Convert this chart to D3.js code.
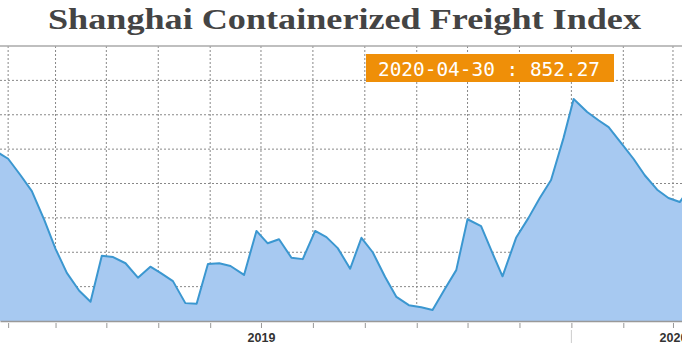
<!DOCTYPE html>
<html>
<head>
<meta charset="utf-8">
<script src="https://cdn.jsdelivr.net/npm/d3@7"></script>
<style>
  body { margin: 0; background: #fff; }
  svg { display: block; }
</style>
</head>
<body>
<div id="chart"></div>
<script>
// weekly-ish index readings
const dates = [
  "2018-05-11","2018-05-22","2018-06-02","2018-06-12","2018-06-23","2018-07-03","2018-07-13","2018-07-24",
  "2018-08-03","2018-08-13","2018-08-23","2018-09-03","2018-09-14","2018-09-25","2018-10-04","2018-10-15",
  "2018-10-26","2018-11-05","2018-11-15","2018-11-25","2018-12-05","2018-12-17","2018-12-28","2019-01-07",
  "2019-01-17","2019-01-28","2019-02-07","2019-02-18","2019-02-28","2019-03-10","2019-03-21","2019-03-31",
  "2019-04-10","2019-04-21","2019-05-01","2019-05-12","2019-05-23","2019-06-02","2019-06-13","2019-06-23",
  "2019-07-03","2019-07-15","2019-07-25","2019-08-03","2019-08-15","2019-08-26","2019-09-05","2019-09-15",
  "2019-09-26","2019-10-05","2019-10-17","2019-10-27","2019-11-05","2019-11-16","2019-11-27","2019-12-07",
  "2019-12-18","2019-12-28","2020-01-07","2020-01-18"
];
const values = [
  847, 836, 812, 789, 747, 705, 670, 644,
  628, 695, 693, 684, 663, 679, 670, 658,
  626, 625, 683, 684, 680, 667, 731, 713,
  719, 692, 690, 731, 722, 706, 676, 721,
  700, 664, 635, 623, 620, 616, 647, 674,
  748, 738, 699, 665, 721, 750, 779, 805,
  866, 923, 904, 892, 882, 859, 836, 812,
  791, 779, 773, 798
];
const tickDates = [
  "2018-05-22","2018-07-03","2018-08-17","2018-10-02","2018-11-17","2019-01-01","2019-02-16",
  "2019-04-03","2019-05-19","2019-07-03","2019-08-18","2019-10-03","2019-11-18","2020-01-01"
];
const yTicks = [650, 700, 750, 800, 850, 900, 950];
const yMin = 600, yMax = 1000;
const viewStart = "2018-05-14T19:00", viewEnd = "2020-01-09T00:00";
const title = "Shanghai Containerized Freight Index";
const tipDate = "2020-04-30", tipValue = 852.27;

const width = 682, height = 351;
const margin = { top: 46, right: 0, bottom: 30, left: 0 };
const innerWidth = width - margin.left - margin.right;
const innerHeight = height - margin.top - margin.bottom;

const parse = d3.timeParse("%Y-%m-%d");
const parseT = d3.timeParse("%Y-%m-%dT%H:%M");
const data = dates.map((d, i) => ({ date: parse(d), value: values[i] }));
const ticks = tickDates.map(parse);

// scales
const x = d3.scaleTime()
  .domain([parseT(viewStart), parseT(viewEnd)])
  .range([0, innerWidth]);

const y = d3.scaleLinear()
  .domain([yMin, yMax])
  .range([innerHeight, 0]);

const svg = d3.select("#chart").append("svg")
  .attr("width", width)
  .attr("height", height);

svg.append("defs").append("clipPath")
  .attr("id", "plot-clip")
  .append("rect")
    .attr("width", innerWidth)
    .attr("height", innerHeight);

// title
svg.append("text")
  .attr("x", 48)
  .attr("y", 29)
  .attr("textLength", 593)
  .attr("lengthAdjust", "spacingAndGlyphs")
  .style("font-family", "'Liberation Serif', serif")
  .style("font-weight", "bold")
  .style("font-size", "29px")
  .style("fill", "#444")
  .text(title);

const g = svg.append("g")
  .attr("transform", `translate(${margin.left},${margin.top})`);

// dashed grid
g.selectAll(".vgrid")
  .data(ticks)
  .join("line")
    .attr("class", "vgrid")
    .attr("x1", d => x(d)).attr("x2", d => x(d))
    .attr("y1", 0).attr("y2", innerHeight)
    .attr("stroke", "#888")
    .attr("stroke-width", 1)
    .attr("stroke-dasharray", "2,2");

g.selectAll(".hgrid")
  .data(yTicks)
  .join("line")
    .attr("class", "hgrid")
    .attr("x1", 0).attr("x2", innerWidth)
    .attr("y1", d => y(d)).attr("y2", d => y(d))
    .attr("stroke", "#888")
    .attr("stroke-width", 1)
    .attr("stroke-dasharray", "2,2");

// top border
g.append("line")
  .attr("x1", 0).attr("x2", innerWidth)
  .attr("y1", y(yMax)).attr("y2", y(yMax))
  .attr("stroke", "#aaa")
  .attr("stroke-width", 1.5);

// area + line
const area = d3.area()
  .x(d => x(d.date))
  .y0(y(yMin))
  .y1(d => y(d.value));

const line = d3.line()
  .x(d => x(d.date))
  .y(d => y(d.value));

const plot = g.append("g").attr("clip-path", "url(#plot-clip)");

plot.append("path")
  .datum(data)
  .attr("d", area)
  .attr("fill", "#a7c9f1");

plot.append("path")
  .datum(data)
  .attr("d", line)
  .attr("fill", "none")
  .attr("stroke", "#3b97d0")
  .attr("stroke-width", 2)
  .attr("stroke-linejoin", "round");

// x axis
const xAxis = d3.axisBottom(x)
  .tickValues(ticks)
  .tickSizeOuter(0)
  .tickFormat(d => (d.getMonth() === 0 && d.getDate() === 1) ? d.getFullYear() : "");

const ax = g.append("g")
  .attr("transform", `translate(0,${innerHeight})`)
  .call(xAxis);

ax.select(".domain")
  .attr("stroke", "#999")
  .attr("stroke-width", 1.5);

ax.selectAll(".tick line")
  .attr("y1", 2)
  .attr("y2", 7)
  .attr("stroke", "#999");

ax.selectAll(".tick text")
  .attr("y", 12)
  .style("font-family", "'Liberation Sans', sans-serif")
  .style("font-weight", "bold")
  .style("font-size", "12.5px")
  .style("fill", "#333");

// small separator under the axis
g.append("line")
  .attr("x1", x(ticks[11])).attr("x2", x(ticks[11]))
  .attr("y1", innerHeight + 9).attr("y2", innerHeight + 22)
  .attr("stroke", "#ccc")
  .attr("stroke-width", 1);

// value label
const tip = svg.append("g");
tip.append("rect")
  .attr("x", 366)
  .attr("y", 54)
  .attr("width", 248)
  .attr("height", 28)
  .attr("fill", "#ef8f08");

tip.append("text")
  .attr("x", 378)
  .attr("y", 76)
  .attr("textLength", 222)
  .attr("lengthAdjust", "spacingAndGlyphs")
  .style("font-family", "'DejaVu Sans Mono', monospace")
  .style("font-size", "20px")
  .style("fill", "#fff")
  .text(`${tipDate} : ${d3.format(".2f")(tipValue)}`);
</script>
</body>
</html>
